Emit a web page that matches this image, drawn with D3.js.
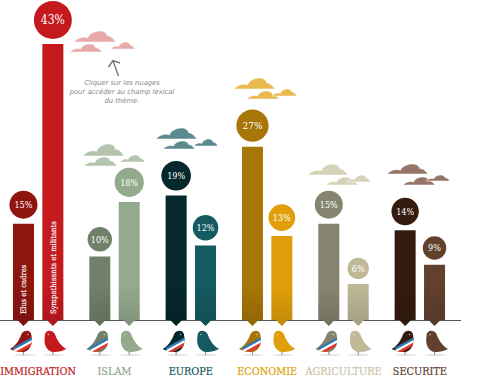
<!DOCTYPE html>
<html>
<head>
<meta charset="utf-8">
<script src="https://cdnjs.cloudflare.com/ajax/libs/d3/7.8.5/d3.min.js"></script>
<style>
  body { margin: 0; background: #fff; overflow: hidden; }
  svg { display: block; }
  text { font-family: 'DejaVu Serif Condensed', 'DejaVu Serif', serif; }
</style>
</head>
<body>
<div id="grafica"></div>
<script>
ancho_total = 480
alto_total  = 377

// datos (altura de barra; la etiqueta va redondeada)
temas      = ['IMMIGRATION', 'ISLAM', 'EUROPE', 'ECONOMIE', 'AGRICULTURE', 'SECURITE']
elus       = [15, 9.9, 19.4, 27, 15, 14]
militants  = [43, 18.4, 11.6, 13.1, 5.6, 8.6]
etiquetas  = ['Elus et cadres', 'Sympathisants et militants']

coloresElus      = ['#8e1510', '#6f8169', '#04282c', '#a87507', '#85846f', '#341c0e']
coloresMilitants = ['#c41a1e', '#93aa8d', '#155a61', '#e09f0a', '#c0b998', '#62402e']
coloresNubes     = ['#e8a9a9', '#b5c4ae', '#5a8a90', '#e9b84f', '#d6d2b8', '#957565']
coloresTexto     = ['#c41a1e', '#93aa8d', '#155a61', '#e09f0a', '#c9c4a8', '#62402e']

svg = d3
        .select('#grafica')
        .append('svg')
        .attr('width', ancho_total)
        .attr('height', alto_total)

x = d3.scaleBand().domain(temas).range([0, 458])
y = d3.scaleLinear().domain([0, 43]).range([320, 44])
r = d3.scaleLinear().domain([6, 15, 43]).range([10.8, 14, 19])

ancho_barra = 21
sep = 14.7
formato = d3.format('.0f')

// dos filas por tema: cadres (izq) y militantes (der)
filas = []
temas.forEach((t, i) => {
  filas.push({ tema: t, i: i, tipo: 0, valor: elus[i], color: coloresElus[i] })
  filas.push({ tema: t, i: i, tipo: 1, valor: militants[i], color: coloresMilitants[i] })
})
centro = (d) => x(d.tema) + x.bandwidth() / 2 + (d.tipo == 0 ? -sep : sep)

// nubes: [x, y, ancho, alto]
nubes = [
  [[74, 31, 42, 11], [70, 44, 32, 8], [111, 42, 24, 7]],
  [[83, 144, 41, 12], [84, 157, 33, 9], [120, 155, 25, 7]],
  [[156, 128, 41, 11], [163, 141, 32, 8], [194, 139, 24, 7]],
  [[234, 78, 41, 11], [247, 91, 32, 8], [272, 89, 25, 7]],
  [[308, 164, 40, 11], [326, 177, 32, 8], [347, 175, 24, 7]],
  [[387, 164, 41, 10], [403, 177, 32, 8], [426, 175, 24, 6]]
]
nube = 'M0,1 C.04,.85 .1,.62 .2,.58 C.26,.55 .3,.6 .33,.62 C.36,.25 .5,0 .62,0 C.74,0 .78,.25 .8,.45 C.88,.4 .96,.8 1,1 Z'

nubes.forEach((grupo, i) => {
  grupo.forEach((n) => {
    svg.append('path')
      .attr('d', nube)
      .attr('transform', `translate(${n[0]},${n[1]}) scale(${n[2]},${n[3]})`)
      .attr('fill', coloresNubes[i])
      .attr('stroke', '#fff')
      .attr('stroke-width', 0.5)
      .attr('vector-effect', 'non-scaling-stroke')
  })
})

// nota
svg.append('path')
  .attr('d', 'M118.5,76 L113,61 M108.5,67 L112.8,60.5 L120,63')
  .attr('fill', 'none')
  .attr('stroke', '#777')
  .attr('stroke-width', 1.4)

nota = svg.append('text')
  .attr('text-anchor', 'middle')
  .attr('font-size', 6.8)
  .attr('font-style', 'italic')
  .attr('fill', '#888')
  .style('font-family', "'DejaVu Sans', sans-serif")
;['Cliquer sur les nuages', 'pour accéder au champ lexical', 'du thème.'].forEach((l, i) => {
  nota.append('tspan').attr('x', 122).attr('y', 85 + i * 9.2).text(l)
})

// linea base
svg.append('line')
  .attr('x1', 0).attr('x2', 461)
  .attr('y1', 320.5).attr('y2', 320.5)
  .attr('stroke', '#555')

// barras con punta
forma = (d) => {
  c = centro(d)
  m = ancho_barra / 2
  return `M${c - m},${y(d.valor)} H${c + m} V${y(0)} H${c + 6} L${c},${y(0) + 6} L${c - 6},${y(0)} H${c - m} Z`
}

svg.selectAll('path.barra')
  .data(filas)
  .enter()
  .append('path')
  .attr('class', 'barra')
  .attr('d', forma)
  .attr('fill', (d) => d.color)

// sombra al pie de las barras
sombra = svg.append('defs')
  .append('linearGradient')
  .attr('id', 'sombra')
  .attr('gradientUnits', 'userSpaceOnUse')
  .attr('x1', 0).attr('x2', 0)
  .attr('y1', 285).attr('y2', 326)
sombra.append('stop').attr('offset', 0).attr('stop-color', '#000').attr('stop-opacity', 0)
sombra.append('stop').attr('offset', 1).attr('stop-color', '#000').attr('stop-opacity', 0.14)

svg.selectAll('path.sombra')
  .data(filas)
  .enter()
  .append('path')
  .attr('class', 'sombra')
  .attr('d', forma)
  .attr('fill', 'url(#sombra)')

// circulos y porcentajes
svg.selectAll('circle.valor')
  .data(filas)
  .enter()
  .append('circle')
  .attr('class', 'valor')
  .attr('cx', centro)
  .attr('cy', (d) => y(d.valor) - 5 - r(d.valor))
  .attr('r', (d) => r(d.valor))
  .attr('fill', (d) => d.color)

svg.selectAll('text.valor')
  .data(filas)
  .enter()
  .append('text')
  .attr('class', 'valor')
  .attr('x', centro)
  .attr('y', (d) => y(d.valor) - 5 - r(d.valor))
  .attr('dy', '0.36em')
  .attr('text-anchor', 'middle')
  .attr('font-size', (d) => d.valor == 43 ? 12 : d.valor == 27 ? 10 : 9)
  .attr('fill', '#fff')
  .text((d) => formato(d.valor) + '%')

// etiquetas verticales en las dos primeras barras
filas.slice(0, 2).forEach((d) => {
  svg.append('text')
    .attr('transform', `translate(${centro(d) + 2.8},314) rotate(-90)`)
    .attr('font-size', 7.6)
    .attr('fill', '#fff')
    .attr('stroke', '#fff')
    .attr('stroke-width', 0.15)
    .text(etiquetas[d.tipo])
})

// pajaros
cuerpo = 'M-8,15.5 C-8,10 -1,9 2,14 C4,20 8,26 13.5,29 C8,32 0,33 -3,31 C-8,28 -9,22 -8,15.5 Z'

svg.select('defs').append('clipPath').attr('id', 'cuerpo').append('path').attr('d', cuerpo)

pajaros = svg.selectAll('g.pajaro')
  .data(filas)
  .enter()
  .append('g')
  .attr('class', 'pajaro')
  .attr('transform', (d) => `translate(${centro(d)},320)`)

pajaros.append('ellipse')
  .attr('cx', 1).attr('cy', 35).attr('rx', 11).attr('ry', 1.2)
  .attr('fill', '#e6e6e6')
pajaros.append('line')
  .attr('x1', 0).attr('x2', 0).attr('y1', 31).attr('y2', 35)
  .attr('stroke', '#999')
  .attr('stroke-width', 1.2)

aves = pajaros.append('g')
  .attr('transform', (d) => d.tipo == 0 ? 'scale(-1,1)' : null)

aves.append('path')
  .attr('d', cuerpo)
  .attr('fill', (d) => d.color)

aves.append('circle')
  .attr('cx', -4.5).attr('cy', 14.5).attr('r', 0.7)
  .attr('fill', '#fff').attr('fill-opacity', 0.7)

// banda tricolor solo en los cadres
banda = aves.filter((d) => d.tipo == 0)
  .append('g')
  .attr('clip-path', 'url(#cuerpo)')
;[['#2a7ab8', 0], ['#fff', 2.6], ['#e03a30', 5.2]].forEach((b) => {
  banda.append('line')
    .attr('x1', -12).attr('y1', 17 + b[1])
    .attr('x2', 10).attr('y2', 29 + b[1])
    .attr('stroke', b[0])
    .attr('stroke-width', 2.7)
})

// nombres de los temas
svg.selectAll('text.tema')
  .data(temas)
  .enter()
  .append('text')
  .attr('class', 'tema')
  .attr('x', (d) => x(d) + x.bandwidth() / 2)
  .attr('y', 374.5)
  .attr('text-anchor', 'middle')
  .attr('font-size', 10.8)
  .attr('fill', (d, i) => coloresTexto[i])
  .attr('stroke', (d, i) => coloresTexto[i])
  .attr('stroke-width', 0.2)
  .text((d) => d)
</script>
</body>
</html>
